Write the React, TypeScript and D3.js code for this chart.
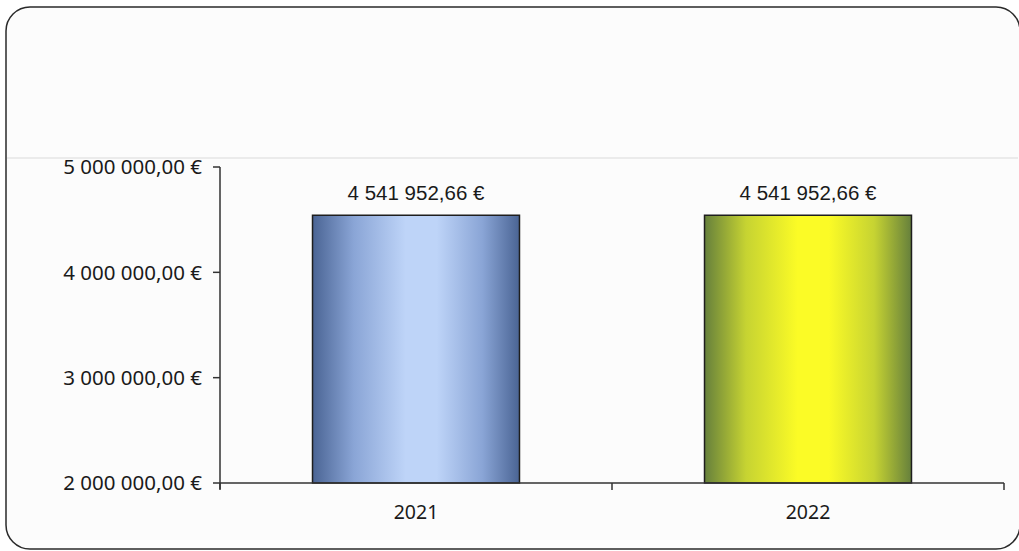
import React from "react";
import * as d3 from "d3";

const categories: string[] = ["2021", "2022"];
const values: number[] = [4541952.66, 4541952.66];
const yTicks: number[] = [2000000, 3000000, 4000000, 5000000];
const yDomain: [number, number] = [2000000, 5000000];

const W = 1019;
const H = 551;

const locale = d3.formatLocale({
  decimal: ",",
  thousands: " ",
  grouping: [3],
  currency: ["", " €"],
});
const fmt = locale.format("$,.2f");

const gradients = [
  { id: "gBlue", edge: "#4a6494", mid: "#8aa5d6", center: "#bed4f8" },
  { id: "gYellow", edge: "#66803c", mid: "#c6d332", center: "#fbfb26" },
];

export default function App() {
  const left = 220;
  const right = 1004;
  const top = 167;
  const bottom = 483;

  const y = d3.scaleLinear().domain(yDomain).range([bottom, top]);
  const xCat = d3.scaleBand<string>().domain(categories).range([left, right]).padding(0);
  const xBar = d3
    .scaleBand<string>()
    .domain(categories)
    .range([left, right])
    .paddingInner(0.472)
    .paddingOuter(0.236);

  const boundaries = [left, ...categories.map((c) => (xCat(c) as number) + xCat.bandwidth())];
  const axisFont = "'Noto Sans', 'Open Sans', sans-serif";

  return (
    <svg
      width={W}
      height={H}
      style={{ position: "absolute", left: 0, top: 0, background: "#ffffff" }}
    >
      <defs>
        {gradients.map((g) => (
          <linearGradient key={g.id} id={g.id} x1="0" y1="0" x2="1" y2="0">
            <stop offset="0" stopColor={g.edge} />
            <stop offset="0.2" stopColor={g.mid} />
            <stop offset="0.45" stopColor={g.center} />
            <stop offset="0.6" stopColor={g.center} />
            <stop offset="0.82" stopColor={g.mid} />
            <stop offset="1" stopColor={g.edge} />
          </linearGradient>
        ))}
      </defs>
      <rect
        x={6}
        y={7}
        width={1014}
        height={542}
        rx={24}
        ry={24}
        fill="#fcfcfc"
        stroke="#2a2a2a"
        strokeWidth={1.5}
      />
      <line x1={7} x2={1018} y1={158} y2={158} stroke="#e6e6e6" strokeWidth={1.5} />

      {/* bars */}
      {categories.map((c, i) => (
        <rect
          key={c}
          x={xBar(c) as number}
          y={y(values[i])}
          width={xBar.bandwidth()}
          height={y(yDomain[0]) - y(values[i])}
          fill={`url(#${gradients[i].id})`}
          stroke="#1e1e1e"
          strokeWidth={1.5}
        />
      ))}

      {/* value labels */}
      {categories.map((c, i) => (
        <text
          key={"v" + c}
          x={(xBar(c) as number) + xBar.bandwidth() / 2}
          y={y(values[i]) - 15}
          textAnchor="middle"
          fontFamily="'Liberation Sans', Arial, sans-serif"
          fontSize={20.5}
          fill="#1a1a1a"
        >
          {fmt(values[i])}
        </text>
      ))}

      {/* y axis */}
      <line x1={left} x2={left} y1={top} y2={bottom + 6} stroke="#333" strokeWidth={1.5} />
      {yTicks.map((t) => (
        <g key={t}>
          <line x1={left - 7} x2={left} y1={y(t)} y2={y(t)} stroke="#333" strokeWidth={1.5} />
          <text
            x={left - 18}
            y={y(t)}
            dy="0.35em"
            textAnchor="end"
            fontFamily={axisFont}
            fontSize={20.5}
            fill="#1a1a1a"
          >
            {fmt(t)}
          </text>
        </g>
      ))}

      {/* x axis */}
      <line x1={left} x2={right} y1={bottom} y2={bottom} stroke="#333" strokeWidth={1.5} />
      {boundaries.map((b, i) => (
        <line key={"b" + i} x1={b} x2={b} y1={bottom} y2={bottom + 7} stroke="#333" strokeWidth={1.5} />
      ))}
      {categories.map((c) => (
        <text
          key={"c" + c}
          x={(xCat(c) as number) + xCat.bandwidth() / 2}
          y={bottom + 36}
          textAnchor="middle"
          fontFamily={axisFont}
          fontSize={19.5}
          fill="#1a1a1a"
        >
          {c}
        </text>
      ))}
    </svg>
  );
}
